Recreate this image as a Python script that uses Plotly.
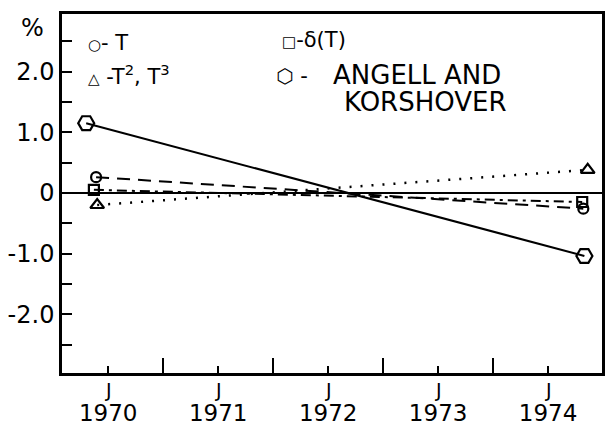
import plotly.graph_objects as go

# ---- data ----
t_x = [1969.89, 1974.32]
t_y = [0.26, -0.26]

delta_x = [1969.87, 1974.31]
delta_y = [0.05, -0.15]

tsq_x = [1969.90, 1974.36]
tsq_y = [-0.20, 0.38]

ak_x = [1969.80, 1974.33]
ak_y = [1.15, -1.04]

year_ticks = [1970, 1971, 1972, 1973, 1974]
year_labels = ["1970", "1971", "1972", "1973", "1974"]
mid_ticks = [1970.5, 1971.5, 1972.5, 1973.5]
y_ticks = [-2.5, -2.0, -1.5, -1.0, -0.5, 0, 0.5, 1.0, 1.5, 2.0, 2.5]
y_labels = [" ", "-2.0", " ", "-1.0", " ", "0", " ", "1.0", " ", "2.0", " "]

FONT = "DejaVu Sans"
BLACK = "black"

fig = go.Figure()

fig.add_trace(go.Scatter(
    x=ak_x, y=ak_y, mode="lines+markers",
    line=dict(color=BLACK, width=2),
    marker=dict(symbol="hexagon2-open", size=16, color=BLACK, line=dict(width=2.2)),
))
fig.add_trace(go.Scatter(
    x=t_x, y=t_y, mode="lines+markers",
    line=dict(color=BLACK, width=2, dash="13px,8px"),
    marker=dict(symbol="circle-open", size=10, color=BLACK, line=dict(width=2.2)),
))
fig.add_trace(go.Scatter(
    x=delta_x, y=delta_y, mode="lines+markers",
    line=dict(color=BLACK, width=2, dash="10px,5px,3px,5px"),
    marker=dict(symbol="square-open", size=10, color=BLACK, line=dict(width=2.2)),
))
fig.add_trace(go.Scatter(
    x=tsq_x, y=tsq_y, mode="lines+markers",
    line=dict(color=BLACK, width=2.5, dash="2px,9px"),
    marker=dict(symbol="triangle-up-open", size=12, color=BLACK, line=dict(width=2.2)),
))


def sym(ch, size):
    return "<span style='font-size:%dpx'>%s</span>" % (size, ch)


def px_x(p):
    return (p - 62) / 540


def px_y(p):
    return (373 - p) / 359


LF = dict(size=21, family=FONT, color=BLACK)
ann = []
# legend texts
ann.append(dict(text=sym("○", 15) + "- T", x=px_x(86), y=px_y(43), xref="paper", yref="paper",
                xanchor="left", yanchor="middle", showarrow=False, font=LF))
ann.append(dict(text=sym("□", 15) + "-δ(T)", x=px_x(280), y=px_y(40), xref="paper", yref="paper",
                xanchor="left", yanchor="middle", showarrow=False, font=LF))
ann.append(dict(text=sym("△", 15) + " -T<sup>2</sup>, T<sup>3</sup>", x=px_x(86), y=px_y(75), xref="paper", yref="paper",
                xanchor="left", yanchor="middle", showarrow=False, font=LF))
ann.append(dict(text=sym("⬡", 20) + " -", x=px_x(274), y=px_y(76), xref="paper", yref="paper",
                xanchor="left", yanchor="middle", showarrow=False, font=LF))
ann.append(dict(text="ANGELL AND", x=px_x(331), y=px_y(75), xref="paper", yref="paper",
                xanchor="left", yanchor="middle", showarrow=False, font=dict(size=26, family=FONT, color=BLACK)))
ann.append(dict(text="KORSHOVER", x=px_x(342), y=px_y(102), xref="paper", yref="paper",
                xanchor="left", yanchor="middle", showarrow=False, font=dict(size=26, family=FONT, color=BLACK)))
# percent sign
ann.append(dict(text="%", x=px_x(32), y=px_y(28), xref="paper", yref="paper",
                xanchor="center", yanchor="middle", showarrow=False, font=dict(size=24, family=FONT, color=BLACK)))
# "J" (January) marks under the year ticks
for yr in year_ticks:
    ann.append(dict(text="J", x=yr, y=0, xref="x", yref="paper", xanchor="center", yanchor="top",
                    yshift=-4, showarrow=False, font=dict(size=19, family=FONT, color=BLACK)))

fig.update_layout(
    width=605, height=428,
    margin=dict(l=62, r=3, t=14, b=55),
    paper_bgcolor="white", plot_bgcolor="white",
    showlegend=False,
    font=dict(family=FONT, color=BLACK),
    annotations=ann,
)
fig.update_xaxes(
    range=[1969.58, 1974.49], automargin=False,
    tickmode="array", tickvals=year_ticks, ticktext=year_labels,
    ticks="inside", ticklen=7, tickwidth=2, tickcolor=BLACK,
    minor=dict(tickmode="array", tickvals=mid_ticks, ticks="inside", ticklen=15, tickwidth=2, tickcolor=BLACK),
    tickfont=dict(size=23, family=FONT, color=BLACK),
    ticklabelstandoff=18,
    showline=True, linewidth=2.5, linecolor=BLACK, mirror=True,
    showgrid=False, zeroline=False,
)
fig.update_yaxes(
    range=[-2.97, 2.95], automargin=False,
    tickmode="array", tickvals=y_ticks, ticktext=y_labels,
    ticks="inside", ticklen=10, tickwidth=2, tickcolor=BLACK,
    tickfont=dict(size=24, family=FONT, color=BLACK),
    ticklabelstandoff=0,
    showline=True, linewidth=2.5, linecolor=BLACK, mirror=True,
    showgrid=False, zeroline=True, zerolinecolor=BLACK, zerolinewidth=1.5,
)

fig.write_html("out.html", config={"displayModeBar": False},
               post_script="document.body.style.margin='0px';document.body.style.overflow='hidden';")
